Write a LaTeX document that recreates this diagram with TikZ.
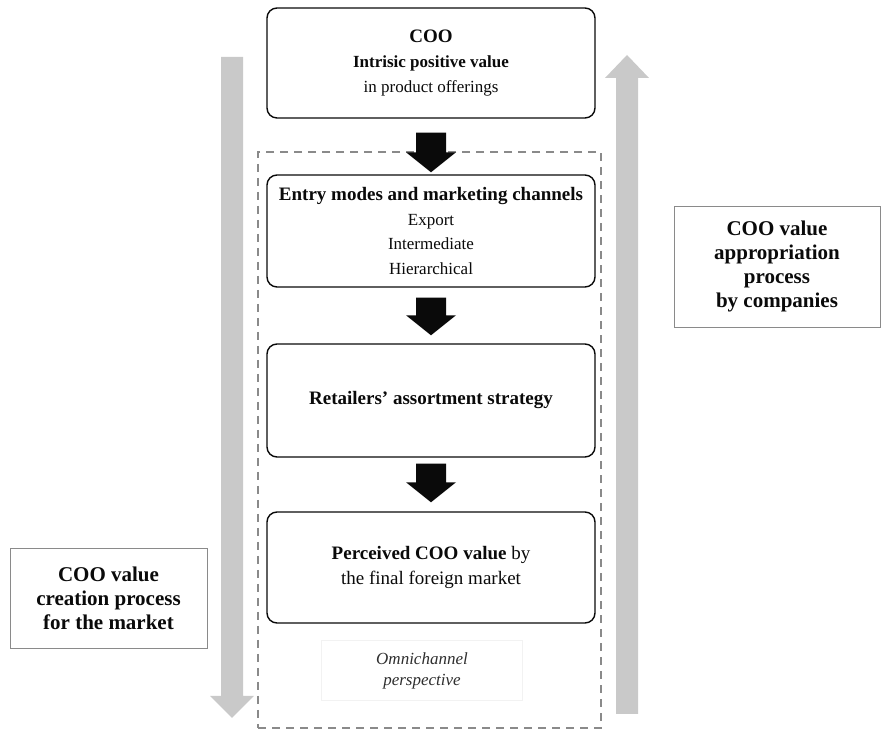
\documentclass[tikz,border=0pt]{standalone}
\usepackage{fontspec}
\setmainfont{Liberation Serif}
\usetikzlibrary{calc}

\definecolor{railgrey}{HTML}{C9C9C9}
\definecolor{frameline}{HTML}{8A8A8A}
\definecolor{ink}{HTML}{0A0A0A}

% solid block arrow pointing down, from a start point to a tip point
\newcommand\downblock[2]{%
  \fill[ink] let \p1=(#1), \p2=(#2) in
    (\x1-15,\y1) -- (\x1+15,\y1) -- (\x1+15,\y2+20) -- (\x1+25,\y2+20)
    -- (\x1,\y2) -- (\x1-25,\y2+20) -- (\x1-15,\y2+20) -- cycle;}

\begin{document}
\begin{tikzpicture}[x=1pt,y=1pt,
  stage/.style={draw=ink, line width=1.4pt, rounded corners=10pt,
    minimum width=328pt, align=center, text=ink, inner sep=0pt},
  sidebox/.style={draw=frameline, line width=0.9pt, align=center,
    font=\fontsize{21}{24}\selectfont\bfseries, text=ink, inner sep=0pt},
  chanframe/.style={draw=frameline, line width=1.2pt, dash pattern=on 8pt off 6pt,
    minimum width=343pt, minimum height=576pt, inner sep=0pt}]

\useasboundingbox (0,0) rectangle (884,733);
\fill[white] (0,0) rectangle (884,733);

% grey process rails
\fill[railgrey] (221,676) -- (243,676) -- (243,37) -- (254,37) -- (232,15)
  -- (210,37) -- (221,37) -- cycle;
\fill[railgrey] (616,19) -- (638,19) -- (638,655) -- (649,655) -- (627,678)
  -- (605,655) -- (616,655) -- cycle;

% dashed frame around the channel stages
\node[chanframe] (channels) at (429.5,293) {};

% stages
\node[stage, minimum height=110pt, font=\fontsize{17}{25}\selectfont] (origin) at (431,670)
  {{\fontsize{19}{25}\selectfont\bfseries COO}\\ \textbf{Intrisic positive value}\\ in product offerings};
\node[stage, minimum height=112pt, font=\fontsize{17}{24.5}\selectfont] (entry) at (431,502)
  {{\fontsize{19}{24.5}\selectfont\bfseries Entry modes and marketing channels}\\ Export\\ Intermediate\\ Hierarchical};
\node[stage, minimum height=113pt, font=\fontsize{19}{25}\selectfont\bfseries] (assort) at (431,332.5)
  {Retailers’ assortment strategy};
\node[stage, minimum height=111pt, font=\fontsize{19}{25}\selectfont] (perceived) at (431,165.5)
  {\textbf{Perceived COO value} by\\ the final foreign market};

\node[draw=black!5, minimum width=201pt, minimum height=60pt, align=center,
  font=\fontsize{17}{21}\selectfont\itshape, text=ink!85] (omni) at (422,62.5)
  {Omnichannel\\ perspective};

% block arrows between stages
\coordinate (a1s) at ($(origin.south)+(0,-14)$);
\coordinate (a1e) at ($(entry.north)+(0,2)$);
\coordinate (a2s) at ($(entry.south)+(0,-10)$);
\coordinate (a2e) at ($(assort.north)+(0,8)$);
\coordinate (a3s) at ($(assort.south)+(0,-6)$);
\coordinate (a3e) at ($(perceived.north)+(0,9)$);
\downblock{a1s}{a1e}
\downblock{a2s}{a2e}
\downblock{a3s}{a3e}

% side captions
\node[sidebox, minimum width=197pt, minimum height=100pt] (creation) at (108.5,135)
  {COO value\\ creation process\\ for the market};
\node[sidebox, minimum width=206pt, minimum height=121pt] (appropriation) at (777,466.5)
  {COO value\\ appropriation\\ process\\ by companies};
\end{tikzpicture}
\end{document}
